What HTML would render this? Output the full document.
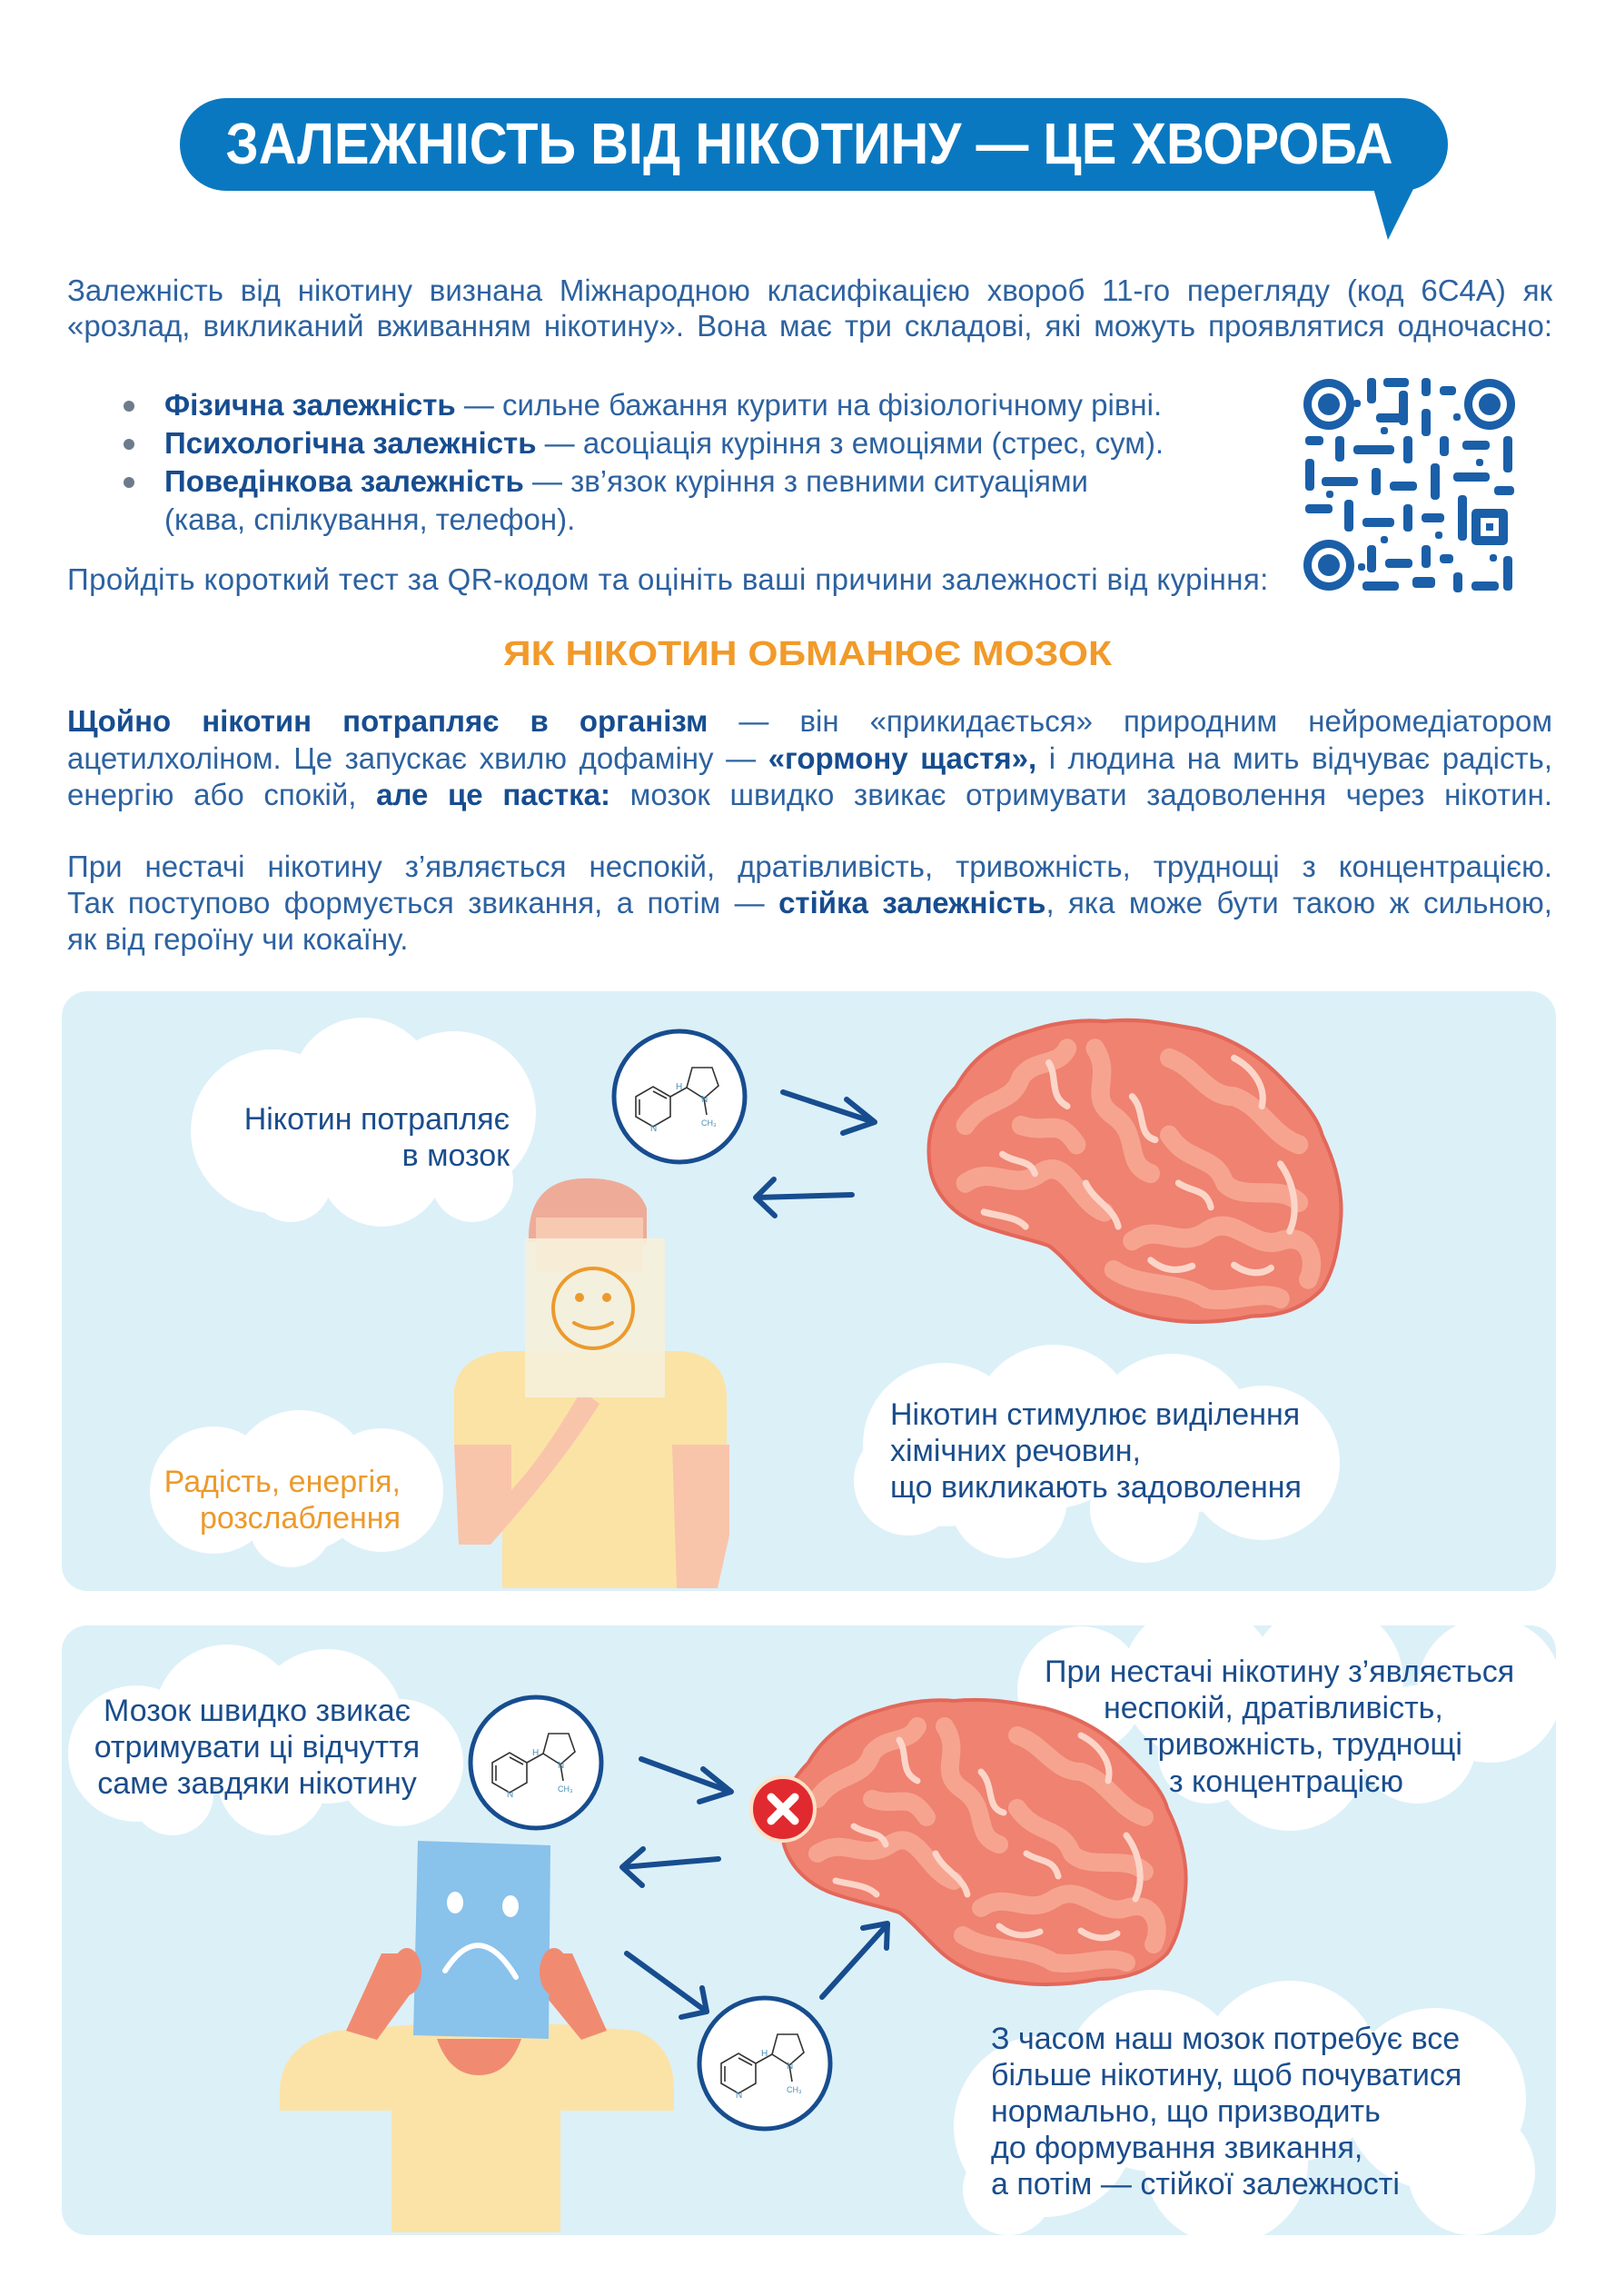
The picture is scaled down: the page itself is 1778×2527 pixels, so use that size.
<!DOCTYPE html>
<html><head><meta charset="utf-8">
<style>
html,body{margin:0;padding:0;background:#fff;}
body{width:1778px;height:2527px;position:relative;overflow:hidden;font-family:"Liberation Sans","DejaVu Sans",sans-serif;}
svg{position:absolute;left:0;top:0;}
.t{position:absolute;white-space:nowrap;}
.j{position:absolute;left:74px;width:1635px;text-align:justify;text-align-last:justify;white-space:nowrap;}
.intro{font-size:33px;color:#2d62a0;line-height:40px;}
.p2{font-size:33px;color:#2d62a0;line-height:40px;}
b{color:#174d8f;}
.bl{font-size:33px;color:#2d62a0;line-height:42px;}
.cl{font-size:34px;color:#1a4d8c;line-height:40px;}
</style></head><body>
<svg width="1778" height="2527" viewBox="0 0 1778 2527">
<defs>
<g id="mol">
<circle cx="0" cy="0" r="72" fill="#fff" stroke="#174d8f" stroke-width="5"/>
<g fill="none" stroke="#333" stroke-width="1.6">
<polygon points="-48,0 -29,-11 -10,0 -10,22 -29,33 -48,22"/>
<line x1="-44" y1="3" x2="-44" y2="20"/><line x1="-29" y1="-6" x2="-14" y2="2"/>
<line x1="-10" y1="0" x2="8" y2="-10"/>
<polygon points="8,-10 14,-32 36,-32 43,-12 27,2"/>
<line x1="27" y1="2" x2="30" y2="20"/>
</g>
<text x="-4" y="-8" font-size="10" fill="#4a90b8">H</text>
<text x="-32" y="38" font-size="10" fill="#4a90b8">N</text>
<text x="24" y="6" font-size="10" fill="#4a90b8">N</text>
<text x="24" y="32" font-size="9" fill="#4a90b8">CH₃</text>
</g>
<g id="brain">
<path d="M30,70 C50,35 80,20 110,12 C140,2 170,0 190,2 C230,-2 260,5 290,10 C330,20 360,40 380,60 C400,80 420,100 425,120 C440,150 448,180 445,210 C442,245 435,265 425,280 C405,300 380,308 350,308 C320,314 290,316 260,312 C225,308 200,298 180,282 C160,265 145,245 130,235 C110,228 90,225 60,215 C30,205 10,185 3,160 C-3,130 0,100 30,70 Z" fill="#ef8270" stroke="#e2685a" stroke-width="4"/>
<g fill="none" stroke="#f6a490" stroke-width="20" stroke-linecap="round" stroke-linejoin="round">
<path d="M40,110 C60,80 90,90 100,60 C115,40 140,50 150,30"/>
<path d="M180,30 C200,60 170,80 200,100 C230,120 210,150 240,160"/>
<path d="M260,40 C290,50 300,80 330,80 C360,90 370,120 400,130"/>
<path d="M40,170 C70,150 90,180 120,160 C150,140 160,190 190,200"/>
<path d="M220,230 C250,210 270,240 300,220 C330,200 350,240 380,230 C410,220 420,250 410,270"/>
<path d="M100,110 C130,120 140,100 160,130"/>
<path d="M260,120 C280,150 310,140 320,170 C340,190 380,170 400,190"/>
<path d="M200,260 C230,280 270,270 300,290 C330,295 360,280 380,290"/>
</g>
<g fill="none" stroke="#fcd5c9" stroke-width="7" stroke-linecap="round">
<path d="M130,45 C140,60 130,80 150,90"/><path d="M220,80 C235,95 225,120 245,125"/>
<path d="M330,40 C350,50 365,70 360,90"/><path d="M80,140 C95,150 110,145 115,160"/>
<path d="M270,170 C285,180 300,175 305,195"/><path d="M380,150 C395,170 400,200 390,220"/>
<path d="M60,200 C80,205 95,205 105,215"/><path d="M240,250 C255,262 270,262 285,256"/>
<path d="M330,255 C345,265 360,265 370,258"/><path d="M170,170 C180,190 200,195 205,215"/>
</g>
</g>
</defs>
<rect x="198" y="108" width="1396" height="102" rx="51" fill="#0a78c0"/>
<polygon points="1510,200 1560,200 1528,264" fill="#0a78c0"/>
<text x="891" y="180" text-anchor="middle" font-size="64" font-weight="bold" fill="#fff" textLength="1285" lengthAdjust="spacingAndGlyphs">ЗАЛЕЖНІСТЬ ВІД НІКОТИНУ — ЦЕ ХВОРОБА</text>
<circle cx="142" cy="447" r="6" fill="#6d7c8c"/><circle cx="142" cy="489" r="6" fill="#6d7c8c"/><circle cx="142" cy="531" r="6" fill="#6d7c8c"/>
<g fill="#1a5fa8">
<circle cx="1463" cy="445" r="28"/><circle cx="1463" cy="445" r="19" fill="#fff"/><circle cx="1463" cy="445" r="12"/>
<circle cx="1640" cy="445" r="28"/><circle cx="1640" cy="445" r="19" fill="#fff"/><circle cx="1640" cy="445" r="12"/>
<circle cx="1463" cy="622" r="28"/><circle cx="1463" cy="622" r="19" fill="#fff"/><circle cx="1463" cy="622" r="12"/>
<rect x="1505" y="416" width="10" height="28" rx="4"/><rect x="1523" y="416" width="28" height="10" rx="4"/><rect x="1540" y="430" width="10" height="38" rx="4"/>
<rect x="1565" y="416" width="10" height="20" rx="4"/><rect x="1585" y="425" width="18" height="10" rx="4"/><rect x="1515" y="455" width="35" height="10" rx="4"/>
<rect x="1565" y="450" width="10" height="30" rx="4"/><rect x="1437" y="480" width="20" height="10" rx="4"/><rect x="1470" y="480" width="10" height="28" rx="4"/>
<rect x="1490" y="490" width="45" height="10" rx="4"/><rect x="1545" y="480" width="10" height="30" rx="4"/><rect x="1585" y="480" width="10" height="22" rx="4"/>
<rect x="1610" y="485" width="30" height="10" rx="4"/><rect x="1655" y="480" width="10" height="40" rx="4"/><rect x="1437" y="505" width="10" height="35" rx="4"/>
<rect x="1455" y="525" width="40" height="10" rx="4"/><rect x="1510" y="515" width="10" height="30" rx="4"/><rect x="1530" y="530" width="30" height="10" rx="4"/>
<rect x="1575" y="510" width="10" height="40" rx="4"/><rect x="1600" y="520" width="40" height="10" rx="4"/><rect x="1645" y="535" width="22" height="10" rx="4"/>
<rect x="1437" y="555" width="30" height="10" rx="4"/><rect x="1480" y="550" width="10" height="35" rx="4"/><rect x="1500" y="570" width="35" height="10" rx="4"/>
<rect x="1545" y="555" width="10" height="30" rx="4"/><rect x="1565" y="565" width="25" height="10" rx="4"/><rect x="1605" y="545" width="10" height="50" rx="4"/>
<rect x="1620" y="560" width="40" height="40" rx="5"/><rect x="1630" y="570" width="20" height="20" fill="#fff"/><rect x="1636" y="576" width="8" height="8"/>
<rect x="1505" y="600" width="10" height="30" rx="4"/><rect x="1525" y="615" width="30" height="10" rx="4"/><rect x="1565" y="600" width="10" height="25" rx="4"/>
<rect x="1585" y="610" width="15" height="10" rx="4"/><rect x="1500" y="640" width="40" height="10" rx="4"/><rect x="1555" y="635" width="25" height="12" rx="4"/>
<rect x="1600" y="630" width="10" height="22" rx="4"/><rect x="1620" y="640" width="30" height="10" rx="4"/><rect x="1655" y="612" width="10" height="38" rx="4"/>
<rect x="1490" y="440" width="8" height="8" rx="3"/><rect x="1520" y="470" width="8" height="8" rx="3"/><rect x="1600" y="455" width="8" height="8" rx="3"/>
<rect x="1625" y="505" width="8" height="8" rx="3"/><rect x="1460" y="540" width="8" height="8" rx="3"/><rect x="1520" y="590" width="8" height="8" rx="3"/>
<rect x="1580" y="585" width="8" height="8" rx="3"/><rect x="1495" y="620" width="8" height="8" rx="3"/><rect x="1640" y="610" width="8" height="8" rx="3"/>
</g>
<text x="889" y="732" text-anchor="middle" font-size="38" font-weight="bold" fill="#f19a2a" textLength="670" lengthAdjust="spacingAndGlyphs">ЯК НІКОТИН ОБМАНЮЄ МОЗОК</text>
<rect x="68" y="1091" width="1645" height="660" rx="28" fill="#dcf0f8"/>
<rect x="68" y="1789" width="1645" height="671" rx="28" fill="#dcf0f8"/>
<g fill="#fff">
<circle cx="300" cy="1245" r="90"/><circle cx="400" cy="1200" r="80"/><circle cx="500" cy="1225" r="90"/><circle cx="420" cy="1280" r="70"/><circle cx="320" cy="1300" r="45"/><circle cx="520" cy="1300" r="45"/>
<circle cx="235" cy="1640" r="70"/><circle cx="330" cy="1630" r="78"/><circle cx="420" cy="1640" r="68"/><circle cx="320" cy="1680" r="45"/>
<circle cx="1040" cy="1590" r="90"/><circle cx="1160" cy="1570" r="90"/><circle cx="1290" cy="1580" r="90"/><circle cx="1390" cy="1610" r="85"/><circle cx="1110" cy="1650" r="65"/><circle cx="1260" cy="1660" r="60"/><circle cx="1000" cy="1630" r="60"/>
</g>
<use href="#mol" x="748" y="1207"/>
<g stroke="#174d8f" stroke-width="6" fill="none" stroke-linecap="round" stroke-linejoin="round">
<line x1="862" y1="1202" x2="962" y2="1235"/><polyline points="932,1210 963,1235 928,1247"/>
<line x1="938" y1="1315" x2="833" y2="1318"/><polyline points="852,1298 832,1318 853,1338"/>
</g>
<use href="#brain" transform="translate(1022,1122) scale(1.02,1.06)"/>
<path d="M553,1500 L753,1500 L753,1748 L553,1748 Z" fill="#fbe3a5"/>
<path d="M500,1530 Q505,1490 560,1487 L750,1487 Q800,1492 800,1540 L800,1590 L740,1590 L740,1748 L563,1748 L563,1590 L500,1590 Z" fill="#fbe3a5"/>
<path d="M500,1590 L563,1590 L563,1640 Q600,1600 640,1530 L660,1545 Q620,1610 540,1700 L505,1700 Z" fill="#f8c5ab"/>
<path d="M740,1590 L803,1590 L803,1690 L790,1748 L745,1748 Z" fill="#f8c5ab"/>
<path d="M582,1367 Q580,1300 640,1297 Q700,1295 712,1330 L712,1370 Z" fill="#eeab98"/>
<rect x="590" y="1340" width="118" height="60" fill="#f8c9b1"/>
<rect x="578" y="1363" width="154" height="175" fill="#f6efda" opacity="0.9"/>
<circle cx="653" cy="1440" r="44" fill="none" stroke="#ec9a2c" stroke-width="4"/>
<circle cx="638" cy="1428" r="5" fill="#ec9a2c"/><circle cx="668" cy="1428" r="5" fill="#ec9a2c"/>
<path d="M632,1456 Q653,1468 674,1456" fill="none" stroke="#ec9a2c" stroke-width="4" stroke-linecap="round"/>
<g fill="#fff">
<circle cx="150" cy="1930" r="75"/><circle cx="250" cy="1890" r="80"/><circle cx="360" cy="1900" r="85"/><circle cx="440" cy="1940" r="70"/><circle cx="300" cy="1960" r="60"/><circle cx="190" cy="1975" r="45"/>
<circle cx="1190" cy="1860" r="70"/><circle cx="1320" cy="1850" r="85"/><circle cx="1460" cy="1850" r="85"/><circle cx="1640" cy="1860" r="80"/><circle cx="1420" cy="1930" r="85"/><circle cx="1560" cy="1920" r="65"/><circle cx="1330" cy="1930" r="55"/>
<circle cx="1150" cy="2340" r="100"/><circle cx="1270" cy="2290" r="100"/><circle cx="1420" cy="2280" r="100"/><circle cx="1580" cy="2310" r="100"/><circle cx="1620" cy="2390" r="70"/><circle cx="1350" cy="2380" r="90"/><circle cx="1110" cy="2410" r="50"/>
</g>
<use href="#mol" x="590" y="1940"/>
<use href="#mol" x="842" y="2271"/>
<use href="#brain" transform="translate(860,1870)"/>
<circle cx="862" cy="1991" r="35" fill="#e12a2f" stroke="#fbe1c8" stroke-width="4"/>
<g stroke="#fff" stroke-width="9" stroke-linecap="round"><line x1="849" y1="1978" x2="875" y2="2004"/><line x1="875" y1="1978" x2="849" y2="2004"/></g>
<g stroke="#174d8f" stroke-width="6" fill="none" stroke-linecap="round" stroke-linejoin="round">
<line x1="706" y1="1936" x2="804" y2="1972"/><polyline points="774,1947 805,1972 770,1983"/>
<line x1="791" y1="2046" x2="686" y2="2055"/><polyline points="708,2035 685,2055 707,2075"/>
<line x1="690" y1="2150" x2="778" y2="2214"/><polyline points="773,2188 778,2214 750,2220"/>
<line x1="905" y1="2198" x2="977" y2="2118"/><polyline points="950,2122 977,2117 976,2144"/>
</g>
<path d="M308,2300 Q310,2250 370,2235 L460,2228 L620,2228 L700,2235 Q742,2250 742,2300 L742,2323 L617,2323 L617,2457 L431,2457 L431,2323 L308,2323 Z" fill="#fbe3a8"/>
<path d="M381,2235 L420,2150 L450,2150 L455,2190 L415,2245 Z" fill="#f08b72"/>
<path d="M668,2235 L630,2150 L600,2150 L595,2190 L640,2245 Z" fill="#f08b72"/>
<path d="M481,2244 L574,2244 Q560,2284 527,2284 Q495,2284 481,2244 Z" fill="#f08b72"/>
<polygon points="460,2026 606,2031 604,2244 455,2240" fill="#89c2eb"/>
<ellipse cx="501" cy="2094" rx="9" ry="12" fill="#fff"/><ellipse cx="562" cy="2098" rx="9" ry="12" fill="#fff"/>
<path d="M490,2169 Q528,2110 568,2176" fill="none" stroke="#fff" stroke-width="6" stroke-linecap="round"/>
<ellipse cx="448" cy="2170" rx="16" ry="26" fill="#f08b72"/><ellipse cx="610" cy="2170" rx="16" ry="26" fill="#f08b72"/>
</svg>

<div class="j intro" style="top:300px">Залежність від нікотину визнана Міжнародною класифікацією хвороб 11-го перегляду (код 6С4А) як</div>
<div class="j intro" style="top:339px">«розлад, викликаний вживанням нікотину». Вона має три складові, які можуть проявлятися одночасно:</div>

<div class="t bl" style="left:181px;top:425px"><b>Фізична залежність</b> — сильне бажання курити на фізіологічному рівні.</div>
<div class="t bl" style="left:181px;top:467px"><b>Психологічна залежність</b> — асоціація куріння з емоціями (стрес, сум).</div>
<div class="t bl" style="left:181px;top:509px"><b>Поведінкова залежність</b> — зв’язок куріння з певними ситуаціями</div>
<div class="t bl" style="left:181px;top:551px">(кава, спілкування, телефон).</div>
<div class="t intro" style="left:74px;top:618px;letter-spacing:0.4px">Пройдіть короткий тест за QR-кодом та оцініть ваші причини залежності від куріння:</div>

<div class="j p2" style="top:774px"><b>Щойно нікотин потрапляє в організм</b> — він «прикидається» природним нейромедіатором</div>
<div class="j p2" style="top:815px">ацетилхоліном. Це запускає хвилю дофаміну — <b>«гормону щастя»,</b> і людина на мить відчуває радість,</div>
<div class="j p2" style="top:855px">енергію або спокій, <b>але це пастка:</b> мозок швидко звикає отримувати задоволення через нікотин.</div>
<div class="j p2" style="top:934px">При нестачі нікотину з’являється неспокій, дратівливість, тривожність, труднощі з концентрацією.</div>
<div class="j p2" style="top:974px">Так поступово формується звикання, а потім — <b>стійка залежність</b>, яка може бути такою ж сильною,</div>
<div class="t p2" style="left:74px;top:1014px">як від героїну чи кокаїну.</div>

<div class="t cl" style="right:1217px;top:1212px;text-align:right">Нікотин потрапляє<br>в мозок</div>
<div class="t cl" style="right:1337px;top:1611px;text-align:right;color:#ec9a2c">Радість, енергія,<br>розслаблення</div>
<div class="t cl" style="left:980px;top:1537px">Нікотин стимулює виділення<br>хімічних речовин,<br>що викликають задоволення</div>

<div class="t cl" style="left:283px;top:1863px;transform:translateX(-50%);text-align:center">Мозок швидко звикає<br>отримувати ці відчуття<br>саме завдяки нікотину</div>
<div class="t cl" style="left:1150px;top:1820px">При нестачі нікотину з’являється</div>
<div class="t cl" style="left:1215px;top:1860px">неспокій, дратівливість,</div>
<div class="t cl" style="left:1259px;top:1900px">тривожність, труднощі</div>
<div class="t cl" style="left:1287px;top:1941px">з концентрацією</div>
<div class="t cl" style="left:1091px;top:2224px">З часом наш мозок потребує все<br>більше нікотину, щоб почуватися<br>нормально, що призводить<br>до формування звикання,<br>а потім — стійкої залежності</div>
</body></html>
